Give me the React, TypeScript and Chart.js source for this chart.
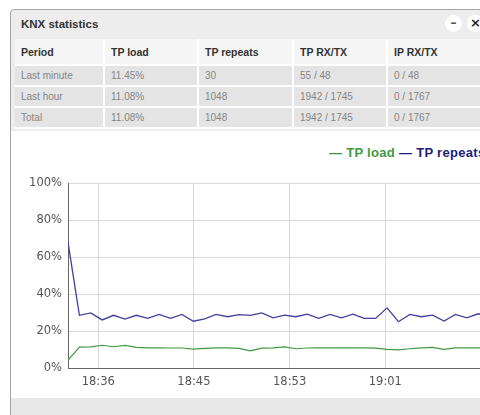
import React, { useEffect, useRef } from "react";
import { Chart, registerables } from "chart.js";

Chart.register(...registerables);

// ---- chart data ----
const minutes = [0, 1, 2, 3, 4, 5, 6, 7, 8, 9, 10, 11, 12, 13, 14, 15, 16, 17, 18, 19, 20, 21, 22, 23, 24, 25, 26, 27, 28, 29, 30, 31, 32, 33, 34, 35, 36, 37, 38];
const tpLoad = [4.3, 11.3, 11.4, 12.3, 11.5, 12.2, 11.1, 10.9, 10.9, 10.8, 10.8, 10.2, 10.6, 10.9, 10.9, 10.6, 9.3, 10.7, 10.9, 11.4, 10.4, 10.8, 10.9, 10.9, 10.9, 10.9, 10.9, 10.7, 10.1, 9.8, 10.4, 10.9, 11.1, 10.1, 10.9, 10.9, 10.9, 10.9, 10.9];
const tpRepeats = [68, 28.5, 29.8, 26, 28.5, 26.4, 28.5, 26.8, 29, 26.8, 29, 25.3, 26.5, 29, 27.7, 28.8, 28.5, 29.8, 27.1, 28.6, 27.7, 29.1, 26.8, 29, 27.1, 29.1, 26.8, 26.8, 32.5, 25, 29, 27.7, 28.6, 25.4, 29, 27.1, 29.3, 28, 28.5];
const xTickPositions = [2.66, 11.05, 19.45, 27.85];
const xTickLabels = ["18:36", "18:45", "18:53", "19:01"];
const seriesNames = ["TP load", "TP repeats"];

// ---- table data ----
const tableHeaders = ["Period", "TP load", "TP repeats", "TP RX/TX", "IP RX/TX"];
const periods = ["Last minute", "Last hour", "Total"];
const loadCol = ["11.45%", "11.08%", "11.08%"];
const repeatsCol = ["30", "1048", "1048"];
const tpRxTxCol = ["55 / 48", "1942 / 1745", "1942 / 1745"];
const ipRxTxCol = ["0 / 48", "0 / 1767", "0 / 1767"];

const colWidths = [90, 94, 95, 94, 100];
const GREEN = "#3f9a3f";
const BLUE = "#40409f";

export default function App() {
  const canvasRef = useRef<HTMLCanvasElement | null>(null);

  useEffect(() => {
    if (!canvasRef.current) return;
    const chart = new Chart(canvasRef.current, {
      type: "line",
      data: {
        datasets: [
          {
            label: seriesNames[0],
            data: minutes.map((m, i) => ({ x: m, y: tpLoad[i] })),
            borderColor: GREEN,
            borderWidth: 1.2,
            pointRadius: 0,
            tension: 0,
            fill: false,
          },
          {
            label: seriesNames[1],
            data: minutes.map((m, i) => ({ x: m, y: tpRepeats[i] })),
            borderColor: BLUE,
            borderWidth: 1.3,
            pointRadius: 0,
            tension: 0,
            fill: false,
          },
        ],
      },
      options: {
        responsive: false,
        animation: false,
        devicePixelRatio: 1,
        layout: { padding: { top: 52, right: 5, bottom: 0, left: 0 } },
        plugins: { legend: { display: false }, tooltip: { enabled: false } },
        scales: {
          x: {
            type: "linear",
            min: 0,
            max: 38,
            afterBuildTicks: (axis: any) => {
              axis.ticks = xTickPositions.map((v) => ({ value: v }));
            },
            afterFit: (axis: any) => {
              axis.height = 25;
            },
            ticks: {
              autoSkip: false,
              maxRotation: 0,
              padding: 7,
              color: "#555",
              font: { family: "DejaVu Sans", size: 11.5 },
              callback: (_v: any, i: number) => xTickLabels[i],
            },
            grid: { color: "#d9d9d9", drawTicks: false, lineWidth: 1 },
            border: { color: "#666", width: 1 },
          },
          y: {
            min: 0,
            max: 100,
            afterFit: (axis: any) => {
              axis.width = 57;
            },
            ticks: {
              stepSize: 20,
              padding: 6,
              color: "#555",
              font: { family: "DejaVu Sans", size: 11.5 },
              callback: (v: any) => v + "%",
            },
            grid: { color: "#d9d9d9", drawTicks: false, lineWidth: 1 },
            border: { color: "#666", width: 1 },
          },
        },
      },
    });
    return () => chart.destroy();
  }, []);

  const cellBase: React.CSSProperties = {
    borderRight: "2px solid #fff",
    borderBottom: "2px solid #fff",
    padding: "0 0 0 6px",
    textAlign: "left",
    whiteSpace: "nowrap",
    overflow: "hidden",
    boxSizing: "border-box",
    fontFamily: "'Liberation Sans', Arial, sans-serif",
    fontSize: 10.5,
  };

  const rows = periods.map((p, i) => [p, loadCol[i], repeatsCol[i], tpRxTxCol[i], ipRxTxCol[i]]);
  const tableWidth = colWidths.reduce((a, b) => a + b, 0);

  return (
    <div
      style={{
        position: "fixed",
        left: 0,
        top: 0,
        width: 480,
        height: 415,
        overflow: "hidden",
        background: "#fff",
      }}
    >
      {/* window frame */}
      <div
        style={{
          position: "absolute",
          left: 10,
          top: 9,
          width: 490,
          height: 420,
          border: "1px solid #a4a4a4",
          borderRadius: "4px 4px 0 0",
          background: "#ededed",
        }}
      />
      {/* title */}
      <div
        style={{
          position: "absolute",
          left: 21,
          top: 10,
          height: 28,
          lineHeight: "28px",
          fontFamily: "'Liberation Sans', Arial, sans-serif",
          fontWeight: "bold",
          fontSize: 11.5,
          color: "#333",
        }}
      >
        KNX statistics
      </div>
      {/* window buttons */}
      <div
        style={{
          position: "absolute",
          left: 445,
          top: 15,
          width: 17,
          height: 17,
          borderRadius: 9,
          background: "#fff",
          textAlign: "center",
          lineHeight: "16px",
          fontFamily: "'DejaVu Sans', sans-serif",
          fontWeight: "bold",
          fontSize: 12,
          color: "#555",
        }}
      >
        –
      </div>
      <div
        style={{
          position: "absolute",
          left: 467,
          top: 15,
          width: 17,
          height: 17,
          borderRadius: 9,
          background: "#fff",
          textAlign: "center",
          lineHeight: "16px",
          fontFamily: "'DejaVu Sans', sans-serif",
          fontWeight: "bold",
          fontSize: 13,
          color: "#222",
        }}
      >
        ×
      </div>
      {/* table */}
      <table
        style={{
          position: "absolute",
          left: 15,
          top: 39,
          width: tableWidth,
          borderCollapse: "separate",
          borderSpacing: 0,
          tableLayout: "fixed",
        }}
      >
        <colgroup>
          {colWidths.map((w, j) => (
            <col key={j} style={{ width: w }} />
          ))}
        </colgroup>
        <tbody>
          <tr style={{ height: 27 }}>
            {tableHeaders.map((h) => (
              <th
                key={h}
                style={{
                  ...cellBase,
                  background: "#f5f5f5",
                  color: "#333",
                  fontWeight: "bold",
                }}
              >
                {h}
              </th>
            ))}
          </tr>
          {rows.map((r, i) => (
            <tr key={i} style={{ height: 21 }}>
              {r.map((c, j) => (
                <td
                  key={j}
                  style={{
                    ...cellBase,
                    background: "#e4e4e4",
                    color: "#858585",
                    fontSize: 10,
                  }}
                >
                  {c}
                </td>
              ))}
            </tr>
          ))}
        </tbody>
      </table>
      {/* chart panel */}
      <div
        style={{
          position: "absolute",
          left: 11,
          top: 131,
          width: 480,
          height: 267,
          background: "#fff",
        }}
      />
      {/* footer */}
      <div
        style={{
          position: "absolute",
          left: 11,
          top: 398,
          width: 480,
          height: 20,
          background: "#e8e8e8",
        }}
      />
      {/* legend */}
      <div
        style={{
          position: "absolute",
          left: 329,
          top: 145,
          whiteSpace: "nowrap",
          fontFamily: "'Liberation Sans', Arial, sans-serif",
          fontWeight: "bold",
          fontSize: 13,
          lineHeight: "16px",
          letterSpacing: "0.3px",
        }}
      >
        <span style={{ color: GREEN }}>— {seriesNames[0]}</span>{" "}
        <span style={{ color: "#1e1e7a" }}>— {seriesNames[1]}</span>
      </div>
      <canvas
        ref={canvasRef}
        width={495}
        height={262}
        style={{ position: "absolute", left: 11, top: 131, width: 495, height: 262 }}
      />
    </div>
  );
}
